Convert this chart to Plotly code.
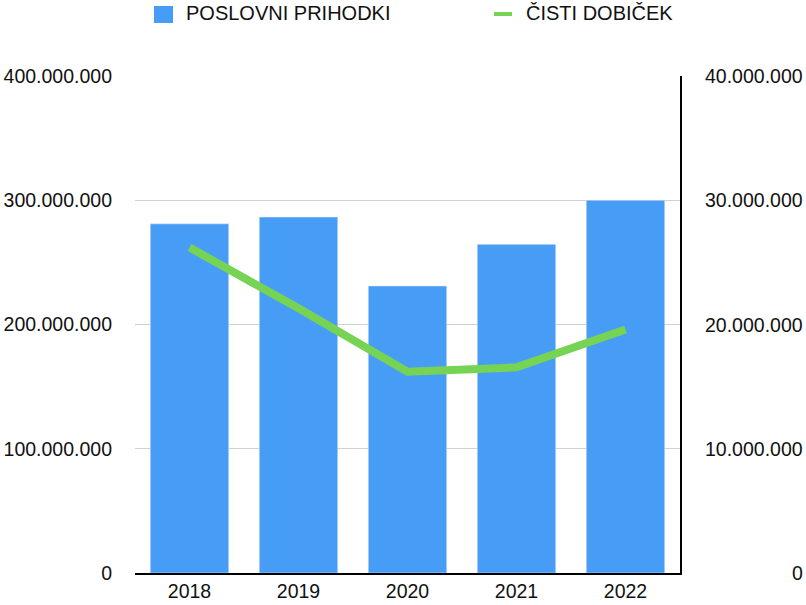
import plotly.graph_objects as go

years = ["2018", "2019", "2020", "2021", "2022"]
revenue = [281e6, 286.5e6, 231e6, 264.5e6, 300e6]
profit = [26.2e6, 21.3e6, 16.2e6, 16.55e6, 19.6e6]
left_ticks = [0, 100e6, 200e6, 300e6, 400e6]
right_ticks = [0, 10e6, 20e6, 30e6, 40e6]
bar_name = "POSLOVNI PRIHODKI"
line_name = "ČISTI DOBIČEK"

BAR_COLOR = "#479DF5"
LINE_COLOR = "#77D353"
FONT = "Liberation Sans, Arial, Helvetica, sans-serif"
FS = 19.5
LFS = 20

W, H = 806, 605
ML, MR, MT, MB = 135, 126, 76, 32
PW = W - ML - MR
PH = H - MT - MB


def px(x):
    return (x - ML) / PW


def py(y):
    return (H - MB - y) / PH


def fmt(v):
    return f"{int(v):,}".replace(",", ".")


fig = go.Figure()
fig.add_bar(x=years, y=revenue, marker_color=BAR_COLOR, name=bar_name,
            showlegend=False)
fig.add_scatter(x=years, y=profit, yaxis="y2", mode="lines",
                line=dict(color=LINE_COLOR, width=8), name=line_name,
                showlegend=False)

annotations = []
for v in right_ticks:
    annotations.append(dict(x=px(805), xref="paper", y=v, yref="y2",
                            xanchor="right", yanchor="middle", text=fmt(v),
                            showarrow=False, font=dict(size=FS, color="#111")))
# legend
annotations.append(dict(x=px(184), xref="paper", y=py(13), yref="paper",
                        xanchor="left", yanchor="middle", text=bar_name,
                        showarrow=False, font=dict(size=LFS, color="#111")))
annotations.append(dict(x=px(524), xref="paper", y=py(13), yref="paper",
                        xanchor="left", yanchor="middle", text=line_name,
                        showarrow=False, font=dict(size=LFS, color="#111")))
shapes = [
    dict(type="rect", xref="paper", yref="paper", x0=px(154), x1=px(173),
         y0=py(6), y1=py(23), fillcolor=BAR_COLOR, line=dict(width=0)),
    dict(type="line", xref="paper", yref="paper", x0=px(494), x1=px(512),
         y0=py(14), y1=py(14), line=dict(color=LINE_COLOR, width=4)),
]

fig.update_layout(
    width=W, height=H,
    margin=dict(l=ML, r=MR, t=MT, b=MB, pad=0, autoexpand=False),
    paper_bgcolor="white", plot_bgcolor="white",
    separators=",.",
    font=dict(family=FONT, size=FS, color="#111"),
    bargap=0.28,
    showlegend=False,
    xaxis=dict(showline=True, linecolor="black", linewidth=2, ticks="",
               showgrid=False, tickfont=dict(size=FS), automargin=False),
    yaxis=dict(range=[0, 4e8], tickvals=left_ticks, tickformat=",d",
               showgrid=True, gridcolor="#d0d0d0", gridwidth=1,
               zeroline=False, showline=False, ticks="", automargin=False,
               ticklabelstandoff=22, tickfont=dict(size=FS)),
    yaxis2=dict(range=[0, 4e7], overlaying="y", side="right",
                showgrid=False, zeroline=False, showline=True,
                linecolor="black", linewidth=2, showticklabels=False,
                ticks="", automargin=False),
    annotations=annotations,
    shapes=shapes,
)

fig.write_html("out.html")
